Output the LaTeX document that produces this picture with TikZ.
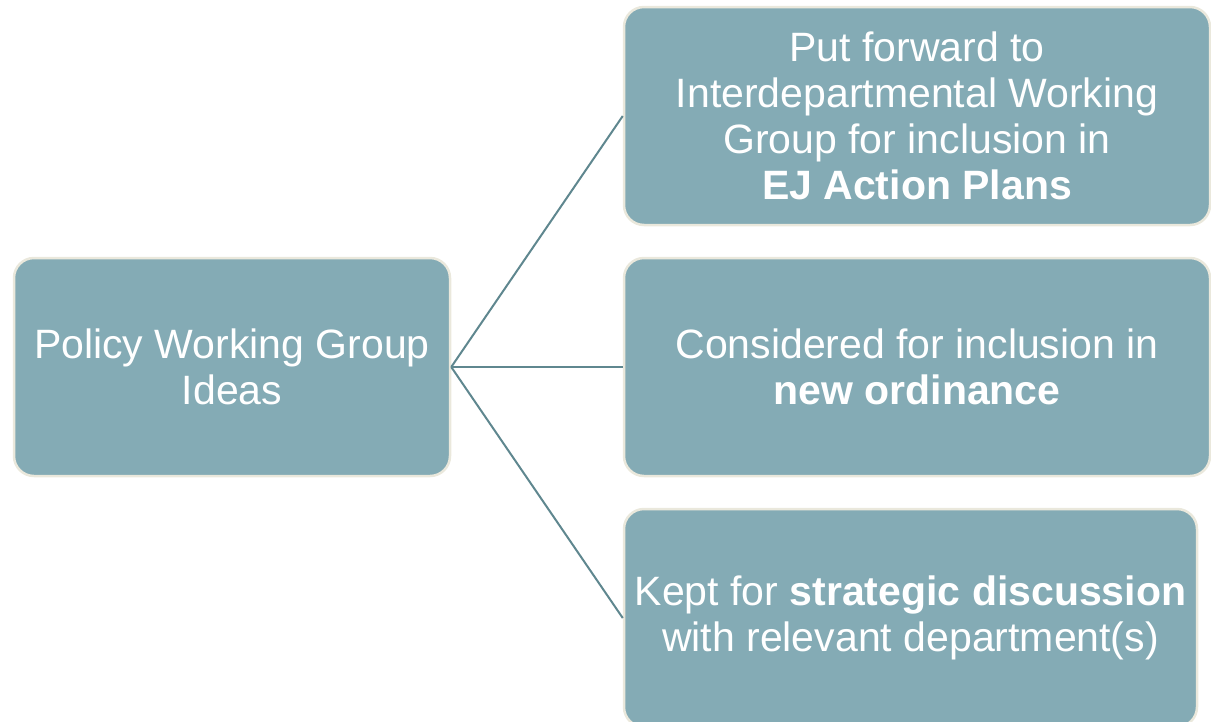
\documentclass[tikz,border=0pt]{standalone}
\usepackage{fontspec}
\setmainfont{Liberation Sans}
\definecolor{boxfill}{RGB}{132,171,181}
\definecolor{boxedge}{RGB}{234,232,220}
\definecolor{linkcol}{RGB}{95,135,143}
\begin{document}
\begin{tikzpicture}[x=1pt,y=-1pt,
  ideabox/.style={draw=boxedge, line width=2.5pt, fill=boxfill, rounded corners=20pt,
    text=white, align=center, inner sep=0pt,
    font=\fontsize{41}{46}\selectfont},
  link/.style={draw=linkcol, line width=2pt}]
\useasboundingbox (0,0) rectangle (1211,721);
\node[ideabox, minimum width=436pt, minimum height=218pt] (src) at (232,367) {Policy Working Group\\Ideas};
\node[ideabox, minimum width=586pt, minimum height=218pt] (a) at (917,116) {Put forward to\\Interdepartmental Working\\Group for inclusion in\\\textbf{EJ Action Plans}};
\node[ideabox, minimum width=586pt, minimum height=218pt] (b) at (917,367) {Considered for inclusion in\\\textbf{new ordinance}};
\node[ideabox, minimum width=573pt, minimum height=218pt] (c) at (910.5,618) {Kept for \textbf{strategic discussion}\\with relevant department(s)};
\draw[link] (src.east) -- (a.west);
\draw[link] (src.east) -- (b.west);
\draw[link] (src.east) -- (c.west);
\end{tikzpicture}
\end{document}
